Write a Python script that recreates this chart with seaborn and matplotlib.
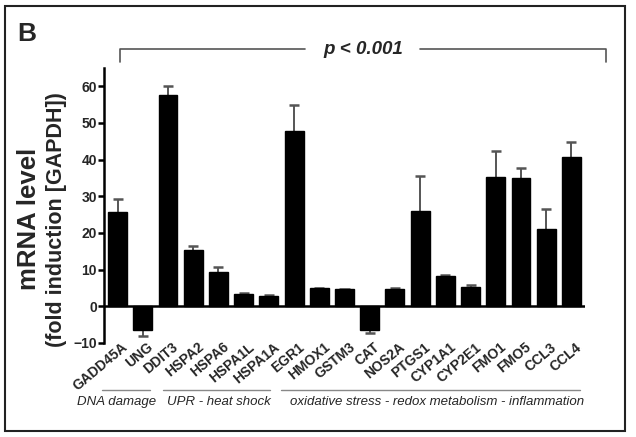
import matplotlib
matplotlib.use("Agg")
import matplotlib.pyplot as plt
import matplotlib.transforms as mtransforms
from matplotlib.patches import Rectangle
from matplotlib.lines import Line2D
import seaborn as sns
import pandas as pd
import numpy as np

genes = ["GADD45A", "UNG", "DDIT3", "HSPA2", "HSPA6", "HSPA1L", "HSPA1A",
         "EGR1", "HMOX1", "GSTM3", "CAT", "NOS2A", "PTGS1", "CYP1A1",
         "CYP2E1", "FMO1", "FMO5", "CCL3", "CCL4"]
values = [25.6, -6.5, 57.7, 15.3, 9.5, 3.5, 2.9,
          47.7, 4.9, 4.6, -6.5, 4.7, 25.9, 8.2,
          5.3, 35.4, 34.9, 21.0, 40.7]
errors = [3.8, 1.7, 2.3, 1.2, 1.3, 0.2, 0.2,
          7.1, 0.2, 0.2, 0.7, 0.2, 9.6, 0.4,
          0.4, 7.1, 2.9, 5.6, 4.0]
group_labels = ["DNA damage", "UPR - heat shock",
                "oxidative stress - redox metabolism - inflammation"]
group_first = [0, 2, 7]
group_last = [1, 6, 18]

sns.set_theme(style="white")
plt.rcParams['font.family'] = ['Liberation Sans', 'DejaVu Sans']

df = pd.DataFrame({"gene": genes, "value": values})

fig = plt.figure(figsize=(6.36, 4.37), dpi=100)
ax = fig.add_axes([104/636, 1-343/437, (585-104)/636, (343-68)/437])

sns.barplot(data=df, x="gene", y="value", color="black", width=0.75,
            saturation=1, errorbar=None, ax=ax, edgecolor="black", zorder=2)

# one-sided error bars with a cap only at the far end
x = np.arange(len(genes))
vals = np.array(values)
errs = np.array(errors)
ends = vals + np.sign(vals) * errs
ecol = "#555555"
ax.vlines(x, vals, ends, color=ecol, lw=1.4, zorder=1)
ax.hlines(ends, x - 0.2, x + 0.2, color=ecol, lw=1.8, zorder=1)

ax.set_ylim(-10, 65)
ax.set_xlim(-0.54, len(genes) - 1 + 0.54)
ax.set_yticks([-10, 0, 10, 20, 30, 40, 50, 60])
ax.axhline(0, color="black", lw=1.8, zorder=3)
for s in ["top", "right", "bottom"]:
    ax.spines[s].set_visible(False)
ax.spines["left"].set_linewidth(1.8)
ax.spines["left"].set_color("black")
ax.tick_params(axis="y", which="both", left=True, length=4, width=1.8,
               color="black", pad=1, labelsize=10)
ax.tick_params(axis="x", length=0, pad=0, labelsize=10)
for lab in ax.get_yticklabels():
    lab.set_fontweight("bold")
offset = mtransforms.ScaledTranslation(4/100, 3/100, fig.dpi_scale_trans)
for lab in ax.get_xticklabels():
    lab.set_fontweight("bold")
    lab.set_rotation(40)
    lab.set_ha("right")
    lab.set_va("top")
    lab.set_rotation_mode("anchor")
    lab.set_transform(lab.get_transform() + offset)
ax.set_xlabel("")
ax.set_ylabel("")

fig.text(29/636, 1-219/437, "mRNA level", rotation=90, fontsize=18.5,
         fontweight="bold", ha="center", va="center")
fig.text(57/636, 1-220/437, "(fold induction [GAPDH])", rotation=90,
         fontsize=15.5, fontweight="bold", ha="center", va="center")

fig.text(17/636, 1-34/437, "B", fontsize=19, fontweight="bold",
         ha="left", va="center")

# significance bracket
yb = 1 - 49/437
yt = 1 - 62/437
gray = "#555555"
for xs, ys in [([120/636, 120/636, 305/636], [yt, yb, yb]),
               ([420/636, 606/636, 606/636], [yb, yb, yt])]:
    fig.add_artist(Line2D(xs, ys, color=gray, lw=1.2, transform=fig.transFigure))
fig.text(363/636, yb, "p < 0.001", fontsize=13.5, fontweight="bold",
         fontstyle="italic", ha="center", va="center")

# group annotations
trans = mtransforms.blended_transform_factory(ax.transData, fig.transFigure)
pads = [(0.6, 0.3), (0.2, 0.05), (0.5, 0.33)]
text_shift = [-0.4, 0.1, 0.25]
for lab, f, l, (pl, pr), sh in zip(group_labels, group_first, group_last,
                                   pads, text_shift):
    x0, x1 = f - pl, l + pr
    fig.add_artist(Line2D([x0, x1], [1-390/437, 1-390/437], color="#888888",
                          lw=1.0, transform=trans))
    fig.text((x0 + x1) / 2 + sh, 1-402/437, lab, transform=trans,
             fontsize=9.5, fontstyle="italic", ha="center", va="center")

fig.add_artist(Rectangle((5/636, 6/437), 620/636, 425/437, fill=False,
                         edgecolor="#222222", lw=1.5, transform=fig.transFigure))

fig.savefig("out.png", dpi=100)
